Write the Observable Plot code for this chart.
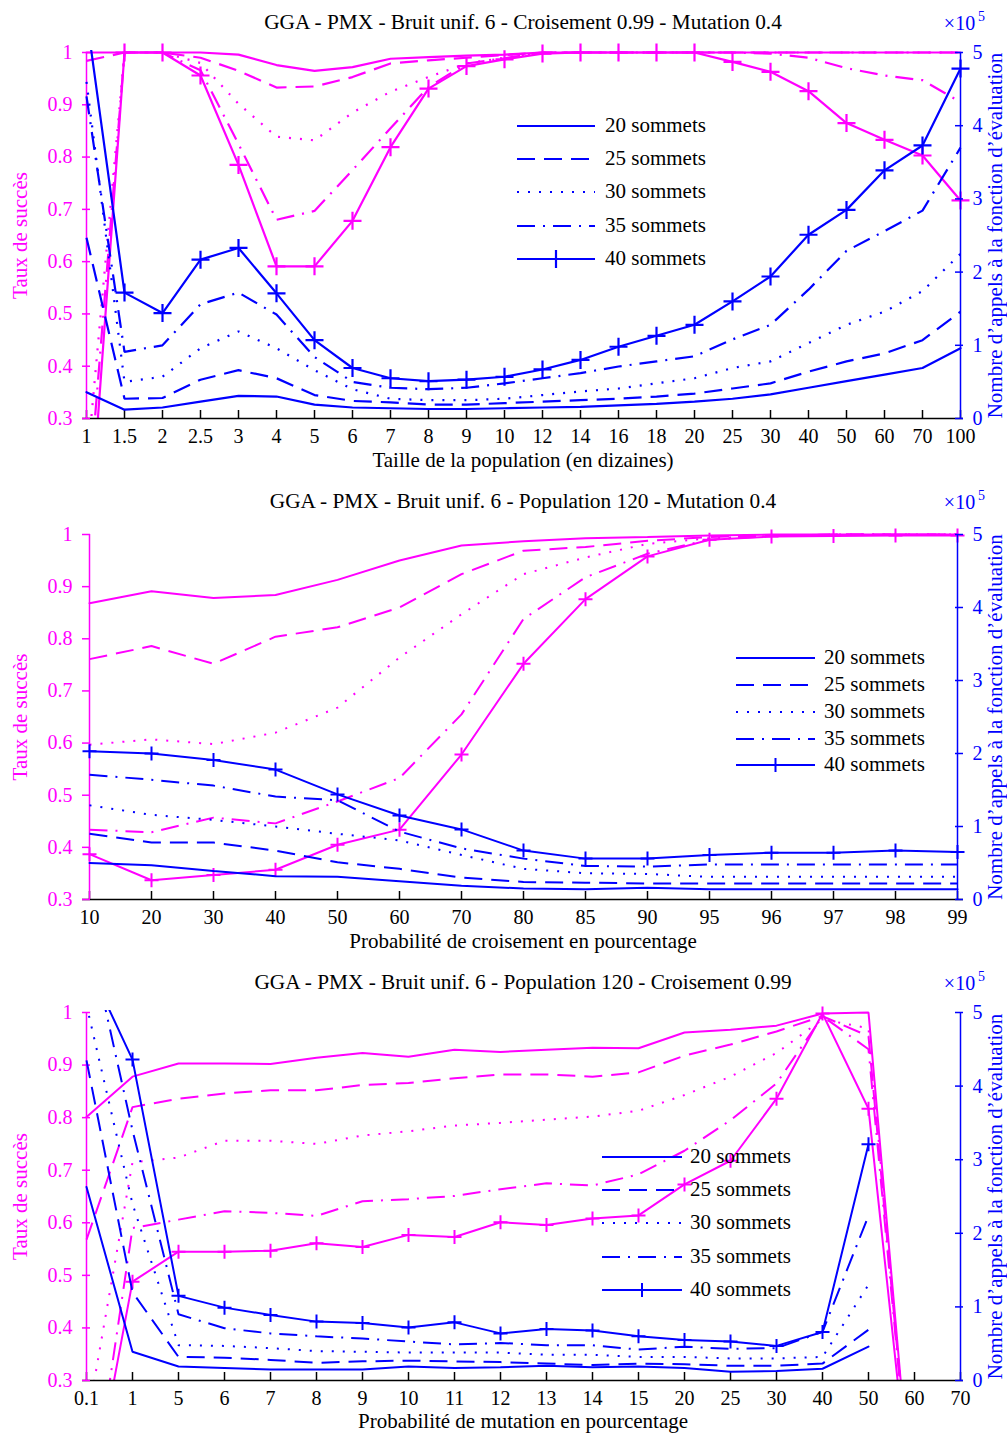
<!DOCTYPE html>
<html>
<head>
<meta charset="utf-8">
<script src="https://cdn.jsdelivr.net/npm/d3@7"></script>
<script src="https://cdn.jsdelivr.net/npm/@observablehq/plot@0.6"></script>
<style>
  body { margin: 0; background: #fff; }
  .panel { position: relative; width: 1007px; }
  .panel svg { position: absolute; left: 0; top: 0; }
</style>
</head>
<body>
<div id="charts"></div>
<script>
// ---------------- DATA ----------------
const tauxTicks = [0.3, 0.4, 0.5, 0.6, 0.7, 0.8, 0.9, 1];
const evalTicks = [0, 1, 2, 3, 4, 5];
const seriesNames = ["20 sommets", "25 sommets", "30 sommets", "35 sommets", "40 sommets"];

// Panel 1 : taille de la population
const p1Cats = ["1","1.5","2","2.5","3","4","5","6","7","8","9","10","12","14","16","18","20","25","30","40","50","60","70","100"];
const p1Taux20 = [1, 1, 1, 1, 0.996, 0.976, 0.965, 0.972, 0.988, 0.991, 0.994, 0.996, 1, 1, 1, 1, 1, 1, 1, 1, 1, 1, 1, 1];
const p1Taux25 = [0.984, 1, 1, 0.99, 0.965, 0.933, 0.935, 0.953, 0.979, 0.985, 0.99, 0.995, 1, 1, 1, 1, 1, 1, 1, 1, 1, 1, 1, 1];
const p1Taux30 = [0.2, 1, 1, 0.98, 0.902, 0.839, 0.832, 0.885, 0.925, 0.953, 0.979, 0.99, 1, 1, 1, 1, 1, 1, 1, 1, 1, 1, 1, 1];
const p1Taux35 = [0.1, 1, 1, 0.966, 0.825, 0.68, 0.697, 0.775, 0.855, 0.934, 0.979, 0.989, 1, 1, 1, 1, 1, 1, 0.998, 0.99, 0.97, 0.956, 0.947, 0.905];
const p1Taux40 = [0.0, 1, 1, 0.956, 0.785, 0.591, 0.591, 0.678, 0.819, 0.931, 0.974, 0.987, 0.998, 1, 1, 1, 1, 0.982, 0.963, 0.926, 0.865, 0.833, 0.803, 0.717];
const p1Eval20 = [0.36, 0.12, 0.15, 0.23, 0.31, 0.30, 0.19, 0.15, 0.14, 0.13, 0.13, 0.14, 0.15, 0.16, 0.18, 0.20, 0.23, 0.27, 0.33, 0.42, 0.51, 0.60, 0.69, 0.96];
const p1Eval25 = [2.47, 0.27, 0.28, 0.53, 0.66, 0.55, 0.32, 0.24, 0.22, 0.19, 0.19, 0.21, 0.23, 0.25, 0.27, 0.30, 0.34, 0.41, 0.48, 0.64, 0.78, 0.89, 1.07, 1.46];
const p1Eval30 = [4.6, 0.50, 0.57, 0.96, 1.19, 0.96, 0.66, 0.40, 0.27, 0.25, 0.25, 0.27, 0.32, 0.37, 0.41, 0.48, 0.55, 0.69, 0.78, 1.03, 1.28, 1.46, 1.74, 2.25];
const p1Eval35 = [4.4, 0.91, 1.0, 1.56, 1.72, 1.42, 0.84, 0.50, 0.42, 0.40, 0.42, 0.48, 0.55, 0.62, 0.71, 0.78, 0.85, 1.08, 1.28, 1.76, 2.29, 2.56, 2.84, 3.70];
const p1Eval40 = [5.5, 1.72, 1.44, 2.17, 2.33, 1.71, 1.07, 0.69, 0.55, 0.51, 0.53, 0.57, 0.67, 0.80, 0.98, 1.13, 1.28, 1.60, 1.94, 2.51, 2.85, 3.39, 3.73, 4.78];

// Panel 2 : probabilité de croisement
const p2Cats = ["10","20","30","40","50","60","70","80","85","90","95","96","97","98","99"];
const p2Taux20 = [0.868, 0.891, 0.878, 0.884, 0.913, 0.95, 0.979, 0.987, 0.993, 0.995, 0.998, 1, 1, 1, 1];
const p2Taux25 = [0.761, 0.786, 0.752, 0.804, 0.822, 0.86, 0.924, 0.969, 0.976, 0.988, 0.995, 0.998, 1, 1, 1];
const p2Taux30 = [0.597, 0.607, 0.598, 0.62, 0.668, 0.764, 0.847, 0.924, 0.956, 0.982, 0.993, 0.997, 1, 1, 1];
const p2Taux35 = [0.434, 0.429, 0.457, 0.446, 0.488, 0.533, 0.655, 0.838, 0.918, 0.963, 0.99, 0.997, 1, 1, 1];
const p2Taux40 = [0.387, 0.337, 0.347, 0.357, 0.405, 0.434, 0.578, 0.752, 0.876, 0.958, 0.99, 0.996, 0.997, 0.998, 0.998];
const p2Eval20 = [0.50, 0.47, 0.39, 0.32, 0.31, 0.25, 0.19, 0.15, 0.14, 0.16, 0.14, 0.14, 0.14, 0.14, 0.14];
const p2Eval25 = [0.90, 0.78, 0.78, 0.67, 0.51, 0.42, 0.30, 0.24, 0.23, 0.22, 0.22, 0.22, 0.22, 0.22, 0.22];
const p2Eval30 = [1.29, 1.16, 1.09, 1.0, 0.90, 0.81, 0.61, 0.42, 0.36, 0.35, 0.31, 0.31, 0.31, 0.31, 0.31];
const p2Eval35 = [1.71, 1.64, 1.56, 1.41, 1.36, 0.93, 0.70, 0.56, 0.46, 0.45, 0.48, 0.48, 0.48, 0.48, 0.48];
const p2Eval40 = [2.03, 2.0, 1.91, 1.78, 1.44, 1.15, 0.96, 0.67, 0.56, 0.56, 0.61, 0.64, 0.64, 0.67, 0.65];

// Panel 3 : probabilité de mutation
const p3Cats = ["0.1","1","5","6","7","8","9","10","11","12","13","14","15","20","25","30","40","50","60","70"];
const p3Taux20 = [0.801, 0.878, 0.903, 0.903, 0.902, 0.914, 0.923, 0.916, 0.929, 0.925, 0.929, 0.933, 0.932, 0.962, 0.967, 0.975, 0.998, 1.0, 0, null];
const p3Taux25 = [0.568, 0.82, 0.836, 0.846, 0.852, 0.852, 0.862, 0.866, 0.875, 0.882, 0.882, 0.878, 0.886, 0.918, 0.939, 0.964, 0.993, 0.955, 0, null];
const p3Taux30 = [0.215, 0.715, 0.724, 0.756, 0.756, 0.75, 0.766, 0.774, 0.785, 0.79, 0.796, 0.802, 0.813, 0.843, 0.878, 0.923, 0.987, 0.97, 0, null];
const p3Taux35 = [0.0, 0.59, 0.606, 0.622, 0.619, 0.613, 0.641, 0.645, 0.651, 0.664, 0.675, 0.671, 0.692, 0.737, 0.795, 0.865, 0.993, 0.93, 0, null];
const p3Taux40 = [0.02, 0.488, 0.545, 0.545, 0.547, 0.561, 0.554, 0.577, 0.573, 0.601, 0.596, 0.608, 0.614, 0.673, 0.718, 0.836, 0.998, 0.817, 0, null];
const p3Eval20 = [2.63, 0.39, 0.19, 0.17, 0.15, 0.15, 0.15, 0.19, 0.17, 0.18, 0.20, 0.18, 0.19, 0.17, 0.12, 0.13, 0.16, 0.46, null, null];
const p3Eval25 = [4.35, 1.2, 0.32, 0.31, 0.28, 0.24, 0.26, 0.27, 0.26, 0.25, 0.23, 0.21, 0.23, 0.22, 0.20, 0.20, 0.23, 0.69, null, null];
const p3Eval30 = [5.1, 2.4, 0.48, 0.47, 0.44, 0.40, 0.39, 0.38, 0.38, 0.38, 0.35, 0.35, 0.32, 0.32, 0.30, 0.30, 0.32, 1.30, null, null];
const p3Eval35 = [6.2, 3.4, 0.90, 0.71, 0.64, 0.60, 0.57, 0.53, 0.49, 0.51, 0.48, 0.48, 0.42, 0.46, 0.43, 0.44, 0.66, 2.24, null, null];
const p3Eval40 = [5.7, 4.36, 1.15, 0.99, 0.89, 0.80, 0.78, 0.72, 0.79, 0.64, 0.70, 0.68, 0.60, 0.55, 0.53, 0.47, 0.66, 3.21, null, null];

// ---------------- STYLE / LAYOUT ----------------
const MAG = "#ff00ff", BLU = "#0000ff";
const FONT = "'Liberation Serif', 'Times New Roman', serif";
const W = 1007, ML = 82, MR = 44;
const STYLES = [
  {dash: null},
  {dash: "18,9"},
  {dash: "2,9"},
  {dash: "18,8,2,8"},
  {dash: null, marker: true}
];
const PLUS = {
  draw(ctx, size) {
    const r = Math.sqrt(size / Math.PI);
    ctx.moveTo(-r, 0); ctx.lineTo(r, 0);
    ctx.moveTo(0, -r); ctx.lineTo(0, r);
  }
};

function rowsOf(cats, arr) { return cats.map((c, i) => ({x: c, v: arr[i]})); }

function seriesMarks(cats, arrays, color, lo, hi, sw, mr) {
  return arrays.flatMap((arr, k) => {
    const st = STYLES[k];
    const rows = rowsOf(cats, arr);
    const opts = {x: "x", y: "v", stroke: color, strokeWidth: sw, clip: true, strokeLinejoin: "miter"};
    if (st.dash) { opts.strokeDasharray = st.dash; opts.strokeLinecap = "butt"; }
    const marks = [Plot.line(rows, opts)];
    if (st.marker) {
      marks.push(Plot.dot(rows.filter(d => d.v != null && d.v >= lo && d.v <= hi),
        {x: "x", y: "v", symbol: PLUS, r: mr, stroke: color, strokeWidth: sw, fill: "none"}));
    }
    return marks;
  });
}

function widenClip(svg) {
  svg.querySelectorAll("clipPath rect").forEach(r => {
    const x = +r.getAttribute("x"), y = +r.getAttribute("y");
    const w = +r.getAttribute("width"), h = +r.getAttribute("height");
    r.setAttribute("x", x - 2); r.setAttribute("width", w + 4);
    r.setAttribute("y", y - 2); r.setAttribute("height", h + 3);
  });
}

function makePanel(cfg) {
  const div = document.createElement("div");
  div.className = "panel";
  div.style.height = cfg.height + "px";
  document.getElementById("charts").appendChild(div);
  const frameW = W - ML - MR;
  const frameH = cfg.height - cfg.mt - cfg.mb;
  const base = {
    width: W, height: cfg.height,
    marginLeft: ML, marginRight: MR, marginTop: cfg.mt, marginBottom: cfg.mb,
    style: {fontFamily: FONT, fontSize: "20px", background: "transparent", overflow: "visible"}
  };
  const xs = {type: "point", domain: cfg.cats, padding: 0};
  const mid = {textAnchor: "middle", lineAnchor: "middle"};

  const left = Plot.plot({
    ...base,
    x: xs,
    y: {domain: [0.3, 1]},
    marks: [
      ...seriesMarks(cfg.cats, cfg.taux, MAG, 0.3, 1, cfg.sw, cfg.mr),
      Plot.ruleY([0.3], {stroke: "black", strokeWidth: 1.5}),
      Plot.tickX(cfg.cats, {x: d => d, stroke: "black", strokeWidth: 1.5, insetTop: frameH - 8}),
      Plot.axisX({tickSize: 0, tickPadding: 10, fontSize: 20, color: "black", label: null}),
      Plot.ruleX([cfg.cats[0]], {stroke: MAG, strokeWidth: 1.5}),
      Plot.tickY(tauxTicks, {y: d => d, stroke: MAG, strokeWidth: 1.5, insetRight: frameW - 8}),
      Plot.axisY({ticks: tauxTicks, tickSize: 0, tickPadding: 10, fontSize: 20, color: MAG, label: null,
                  tickFormat: d => String(d)}),
      Plot.text([cfg.title], {text: d => d, frameAnchor: "top", dy: cfg.titleDy, ...mid, fontSize: 21.3, fill: "black"}),
      Plot.text([cfg.xLabel], {text: d => d, frameAnchor: "bottom", dy: cfg.xLabelDy, ...mid, fontSize: 21, fill: "black"}),
      Plot.text(["Taux de succès"], {text: d => d, frameAnchor: "left", dx: -62, rotate: -90, ...mid, fontSize: 21, fill: MAG})
    ]
  });

  const right = Plot.plot({
    ...base,
    x: {...xs, axis: null},
    y: {domain: [0, 5]},
    marks: [
      ...seriesMarks(cfg.cats, cfg.evals, BLU, 0, 5, cfg.sw, cfg.mr),
      Plot.ruleX([cfg.cats[cfg.cats.length - 1]], {stroke: BLU, strokeWidth: 1.5}),
      Plot.tickY(evalTicks, {y: d => d, stroke: BLU, strokeWidth: 1.5, insetLeft: frameW - 8}),
      Plot.axisY({anchor: "right", ticks: evalTicks, tickSize: 0, tickPadding: 9, fontSize: 20, color: BLU, label: null,
                  tickFormat: d => String(d)}),
      Plot.text(["Nombre d’appels à la fonction d’évaluation"], {text: d => d, frameAnchor: "right", dx: 32, rotate: -90, ...mid, fontSize: 21, fill: BLU}),
      Plot.text(["×10"], {text: d => d, frameAnchor: "top-right", dx: -4, dy: cfg.titleDy + 1, ...mid, fontSize: 20, fill: BLU}),
      Plot.text(["5"], {text: d => d, frameAnchor: "top-right", dx: 18, dy: cfg.titleDy - 6, ...mid, fontSize: 14, fill: BLU})
    ]
  });

  widenClip(left); widenClip(right);
  div.appendChild(left);
  div.appendChild(right);

  // legend (blue line samples, black labels)
  const lg = cfg.legend;
  const leg = d3.create("svg")
    .attr("width", W).attr("height", cfg.height)
    .style("position", "absolute").style("left", "0px").style("top", "0px")
    .style("overflow", "visible");
  seriesNames.forEach((name, k) => {
    const y = lg.ys[k];
    const st = STYLES[k];
    const ln = leg.append("line")
      .attr("x1", lg.x1).attr("x2", lg.x2).attr("y1", y + 1).attr("y2", y + 1)
      .attr("stroke", BLU).attr("stroke-width", cfg.sw);
    if (st.dash) ln.attr("stroke-dasharray", st.dash);
    if (st.marker) {
      const mx = (lg.x1 + lg.x2) / 2;
      leg.append("path")
        .attr("d", `M${mx - cfg.mr},${y + 1}H${mx + cfg.mr}M${mx},${y + 1 - cfg.mr}V${y + 1 + cfg.mr}`)
        .attr("stroke", BLU).attr("stroke-width", cfg.sw).attr("fill", "none");
    }
    leg.append("text")
      .attr("x", lg.tx).attr("y", y).attr("dy", "0.35em")
      .attr("font-family", FONT).attr("font-size", 21).attr("fill", "black")
      .text(name);
  });
  div.appendChild(leg.node());
}

makePanel({
  cats: p1Cats,
  taux: [p1Taux20, p1Taux25, p1Taux30, p1Taux35, p1Taux40],
  evals: [p1Eval20, p1Eval25, p1Eval30, p1Eval35, p1Eval40],
  title: "GGA - PMX - Bruit unif. 6 - Croisement 0.99 - Mutation 0.4",
  xLabel: "Taille de la population (en dizaines)",
  height: 478, mt: 52, mb: 60, titleDy: -30, xLabelDy: 42, sw: 2.2, mr: 9,
  legend: {x1: 517, x2: 595, tx: 605, ys: [125, 158, 191, 225, 258]}
});
makePanel({
  cats: p2Cats,
  taux: [p2Taux20, p2Taux25, p2Taux30, p2Taux35, p2Taux40],
  evals: [p2Eval20, p2Eval25, p2Eval30, p2Eval35, p2Eval40],
  title: "GGA - PMX - Bruit unif. 6 - Population 120 - Mutation 0.4",
  xLabel: "Probabilité de croisement en pourcentage",
  height: 480, mt: 56, mb: 59, titleDy: -33, xLabelDy: 42, sw: 2, mr: 7,
  legend: {x1: 736, x2: 815, tx: 824, ys: [179, 206, 233, 260, 286]}
});
makePanel({
  cats: p3Cats,
  taux: [p3Taux20, p3Taux25, p3Taux30, p3Taux35, p3Taux40],
  evals: [p3Eval20, p3Eval25, p3Eval30, p3Eval35, p3Eval40],
  title: "GGA - PMX - Bruit unif. 6 - Population 120 - Croisement 0.99",
  xLabel: "Probabilité de mutation en pourcentage",
  height: 477, mt: 54, mb: 55, titleDy: -30, xLabelDy: 41, sw: 2, mr: 7,
  legend: {x1: 602, x2: 682, tx: 690, ys: [198, 231, 264, 298, 331]}
});
</script>
</body>
</html>
